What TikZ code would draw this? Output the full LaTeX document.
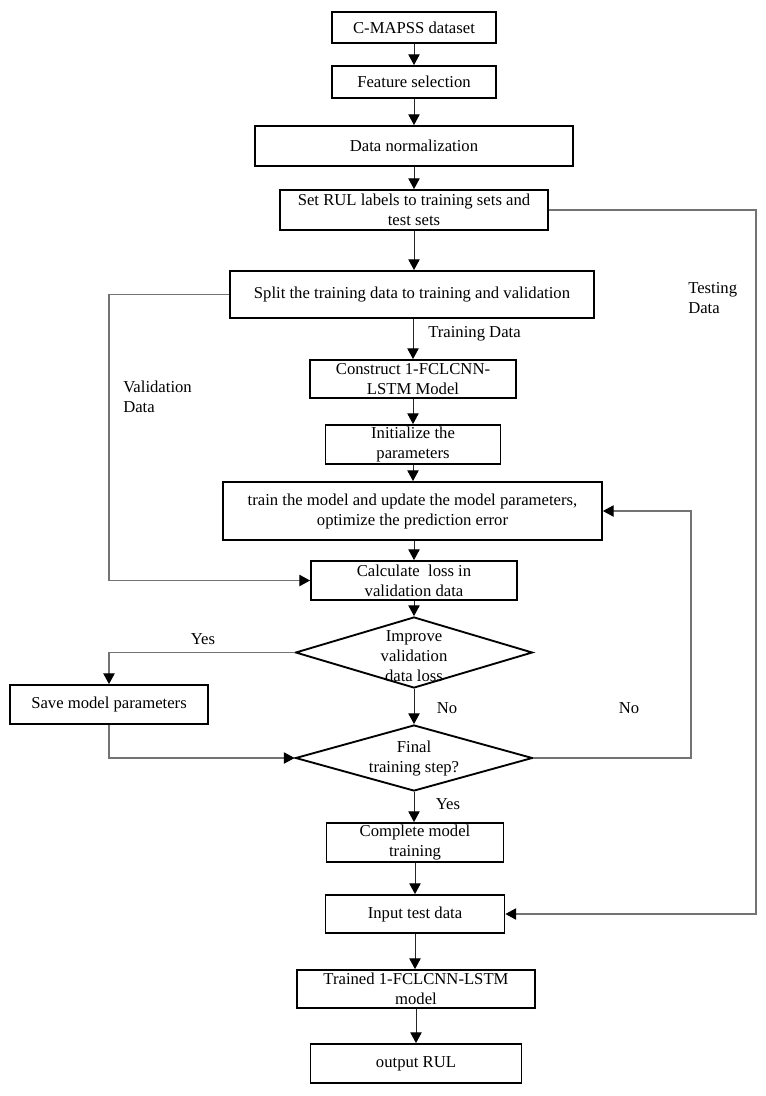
\documentclass[tikz,border=0pt]{standalone}
\usepackage{fontspec}
\setmainfont{Liberation Serif}
\usetikzlibrary{arrows.meta, positioning, shapes.geometric, calc}

\begin{document}
\begin{tikzpicture}[
  x=0.75pt, y=-0.75pt,
  box/.style={rectangle, draw, line width=1.4pt, inner sep=1pt, align=center, font=\fontsize{12.5}{15}\selectfont},
  decision/.style={diamond, draw, line width=1.4pt, inner sep=0pt, minimum width=177.75pt},
  flow/.style={-{Triangle[length=8pt,width=8.5pt,color=black]}, line width=0.7pt, black!85},
  loop/.style={-{Triangle[length=8pt,width=8.5pt,color=black]}, line width=0.8pt, black!55},
  tag/.style={font=\fontsize{12.5}{15}\selectfont, align=left, inner sep=0pt}
]
  \useasboundingbox (0,0) rectangle (766,1096);

  % main column
  \node[box, minimum width=123pt, minimum height=23.25pt] (cmapss) at (414,27.5) {C-MAPSS dataset};
  \node[box, minimum width=123pt, minimum height=24pt] (feat) at (414,82) {Feature selection};
  \node[box, minimum width=238.5pt, minimum height=30pt] (norm) at (414,146) {Data normalization};
  \node[box, minimum width=201pt, minimum height=30pt] (rul) at (414,210) {Set RUL labels to training sets and\\test sets};
  \node[box, minimum width=273pt, minimum height=35.25pt] (split) at (412,294.5) {Split the training data to training and validation};
  \node[box, minimum width=154.5pt, minimum height=28.5pt] (cons) at (413,379) {Construct 1-FCLCNN-\\LSTM Model};
  \node[box, minimum width=131.25pt, minimum height=29.25pt] (init) at (413,444.5) {Initialize the\\parameters};
  \node[box, minimum width=284.25pt, minimum height=43.5pt] (train) at (412.5,511) {train the model and update the model parameters,\\optimize the prediction error};
  \node[box, minimum width=154.5pt, minimum height=29.25pt] (calc) at (414,580.5) {Calculate\ \ loss in\\validation data};

  \node[decision, minimum height=53.25pt] (imp) at (414,652.5) {};
  \node[tag, align=center] (impText) at (414,656) {Improve\\validation\\data loss};
  \node[box, minimum width=148.5pt, minimum height=29.25pt] (save) at (109,704.5) {Save model parameters};
  \node[decision, minimum height=49.5pt] (fin) at (414,758) {};
  \node[tag, align=center] (finText) at (414,759) {Final\\training step?};

  \node[box, minimum width=132.75pt, minimum height=29.25pt] (done) at (415,842.5) {Complete model\\training};
  \node[box, minimum width=134.25pt, minimum height=28.5pt] (inp) at (415,914) {Input test data};
  \node[box, minimum width=178.5pt, minimum height=28.5pt] (trained) at (416,989) {Trained 1-FCLCNN-LSTM\\model};
  \node[box, minimum width=158.25pt, minimum height=29.25pt] (out) at (416,1063.5) {output RUL};

  % labels
  \node[tag, anchor=west] (trainLbl) at (428,334) {Training Data};
  \node[tag, anchor=west] (valLbl) at (123,397) {Validation\\Data};
  \node[tag, anchor=west] (testLbl) at (688,298) {Testing\\Data};
  \node[tag] (yesA) at (203,639) {Yes};
  \node[tag] (noA) at (447,708) {No};
  \node[tag] (noB) at (629,708) {No};
  \node[tag] (yesB) at (448,804) {Yes};

  \coordinate (valL) at (109,0);
  \coordinate (loopR) at (691,0);
  \coordinate (testR) at (756,0);

  \draw[flow] (cmapss) -- (feat);
  \draw[flow] (feat) -- (norm);
  \draw[flow] (norm) -- (rul);
  \draw[flow] (rul) -- (rul |- split.north);
  \draw[flow] (split.south -| cons) -- (cons);
  \draw[flow] (cons) -- (init);
  \draw[flow] (init.south) -- (init.south |- train.north);
  \draw[flow] (train.south -| calc) -- (calc);
  \draw[flow] (calc) -- (imp);
  \draw[flow] (imp) -- (fin);
  \draw[flow] (fin.south) -- (fin.south |- done.north);
  \draw[flow] (done.south -| inp) -- (inp);
  \draw[flow] (inp.south) -- (inp.south |- trained.north);
  \draw[flow] (trained) -- (out);

  \draw[loop] (split.west) -- (split.west -| valL) |- (calc.west);
  \draw[loop] (imp.west) -| (save.north);
  \draw[loop] (save.south) |- (fin.west);
  \draw[loop] (fin.east) -- (fin.east -| loopR) |- (train.east);
  \draw[loop] (rul.east) -- (rul.east -| testR) |- (inp.east);
\end{tikzpicture}
\end{document}
